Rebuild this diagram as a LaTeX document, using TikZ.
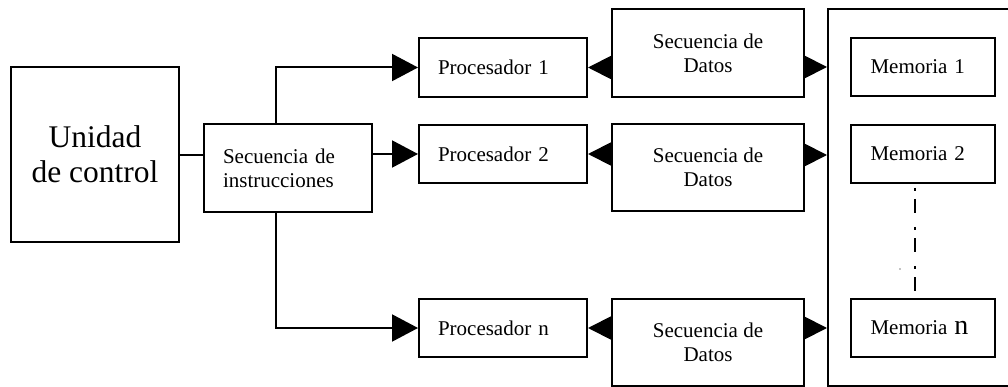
\documentclass[tikz,border=0pt]{standalone}
\usepackage{fontspec}
\setmainfont{Liberation Serif}
\usetikzlibrary{arrows.meta}
\begin{document}
\begin{tikzpicture}[x=1pt,y=-1pt,
  box/.style={draw, line width=2pt, rectangle, inner sep=0pt,
              font=\fontsize{21}{24}\selectfont},
  leftbox/.style={box, align=left, text width=#1},
  midbox/.style={box, align=center},
  wire/.style={line width=2pt},
  bigarrow/.style={wire, -{Triangle[length=26pt,width=27pt]}},
  smallarrow/.style={wire, -{Triangle[length=24pt,width=24pt]}},
  dashdot/.style={line width=2pt, dash pattern=on 3pt off 8pt on 14pt off 14pt, dash phase=35pt}
]
\useasboundingbox[fill=white] (0,0) rectangle (1008,387);

% control unit and instruction stream
\node[midbox, minimum width=168pt, minimum height=175pt,
      font=\fontsize{31.5}{35}\selectfont] (uc) at (95,154.5) {Unidad\\de control};
\node[leftbox=130pt, minimum width=168pt, minimum height=88pt] (sdi) at (288,168)
      {Secuencia de\\instrucciones};

% processors
\node[leftbox=130pt, minimum width=168pt, minimum height=59pt] (p1) at (503,67.5) {Procesador 1};
\node[leftbox=130pt, minimum width=168pt, minimum height=58pt] (p2) at (503,154) {Procesador 2};
\node[leftbox=130pt, minimum width=168pt, minimum height=58pt] (pn) at (503,328) {Procesador n};

% data streams
\node[midbox, minimum width=192pt, minimum height=88pt] (d1) at (708,53) {Secuencia de\\Datos};
\node[midbox, minimum width=192pt, minimum height=87pt] (d2) at (708,167.5) {Secuencia de\\Datos};
\node[midbox, minimum width=192pt, minimum height=87pt] (dn) at (708,342.5) {Secuencia de\\Datos};

% memory block
\node[box, minimum width=184pt, minimum height=377pt] (mem) at (920,197.5) {};
\node[leftbox=104pt, minimum width=144pt, minimum height=58pt] (m1) at (922.5,67) {Memoria 1};
\node[leftbox=104pt, minimum width=144pt, minimum height=58pt] (m2) at (922.5,154) {Memoria 2};
\node[leftbox=104pt, minimum width=144pt, minimum height=58pt] (mn) at (922.5,328)
      {Memoria {\fontsize{28}{28}\selectfont n}};

% instruction distribution
\draw[wire] (uc.east |- 0,155) -- (sdi.west |- 0,155);
\draw[bigarrow] ([xshift=-12pt]sdi.north) |- (p1.west);
\draw[bigarrow] (sdi.east |- p2) -- (p2.west);
\draw[bigarrow] ([xshift=-12pt]sdi.south) |- (pn.west);

% data streams to processors
\draw[smallarrow] (d1.west |- p1) -- (p1.east);
\draw[smallarrow] (d2.west |- p2) -- (p2.east);
\draw[smallarrow] (dn.west |- pn) -- (pn.east);

% data streams to memory
\draw[smallarrow] (d1.east |- m1) -- (mem.west |- m1);
\draw[smallarrow] (d2.east |- 0,155) -- (mem.west |- 0,155);
\draw[smallarrow] (dn.east |- mn) -- (mem.west |- mn);

% ellipsis between memories
\draw[dashdot] ([xshift=-7.5pt]m2.south) -- ([xshift=-7.5pt]mn.north);
\fill (900,269) circle (0.7pt);
\end{tikzpicture}
\end{document}
